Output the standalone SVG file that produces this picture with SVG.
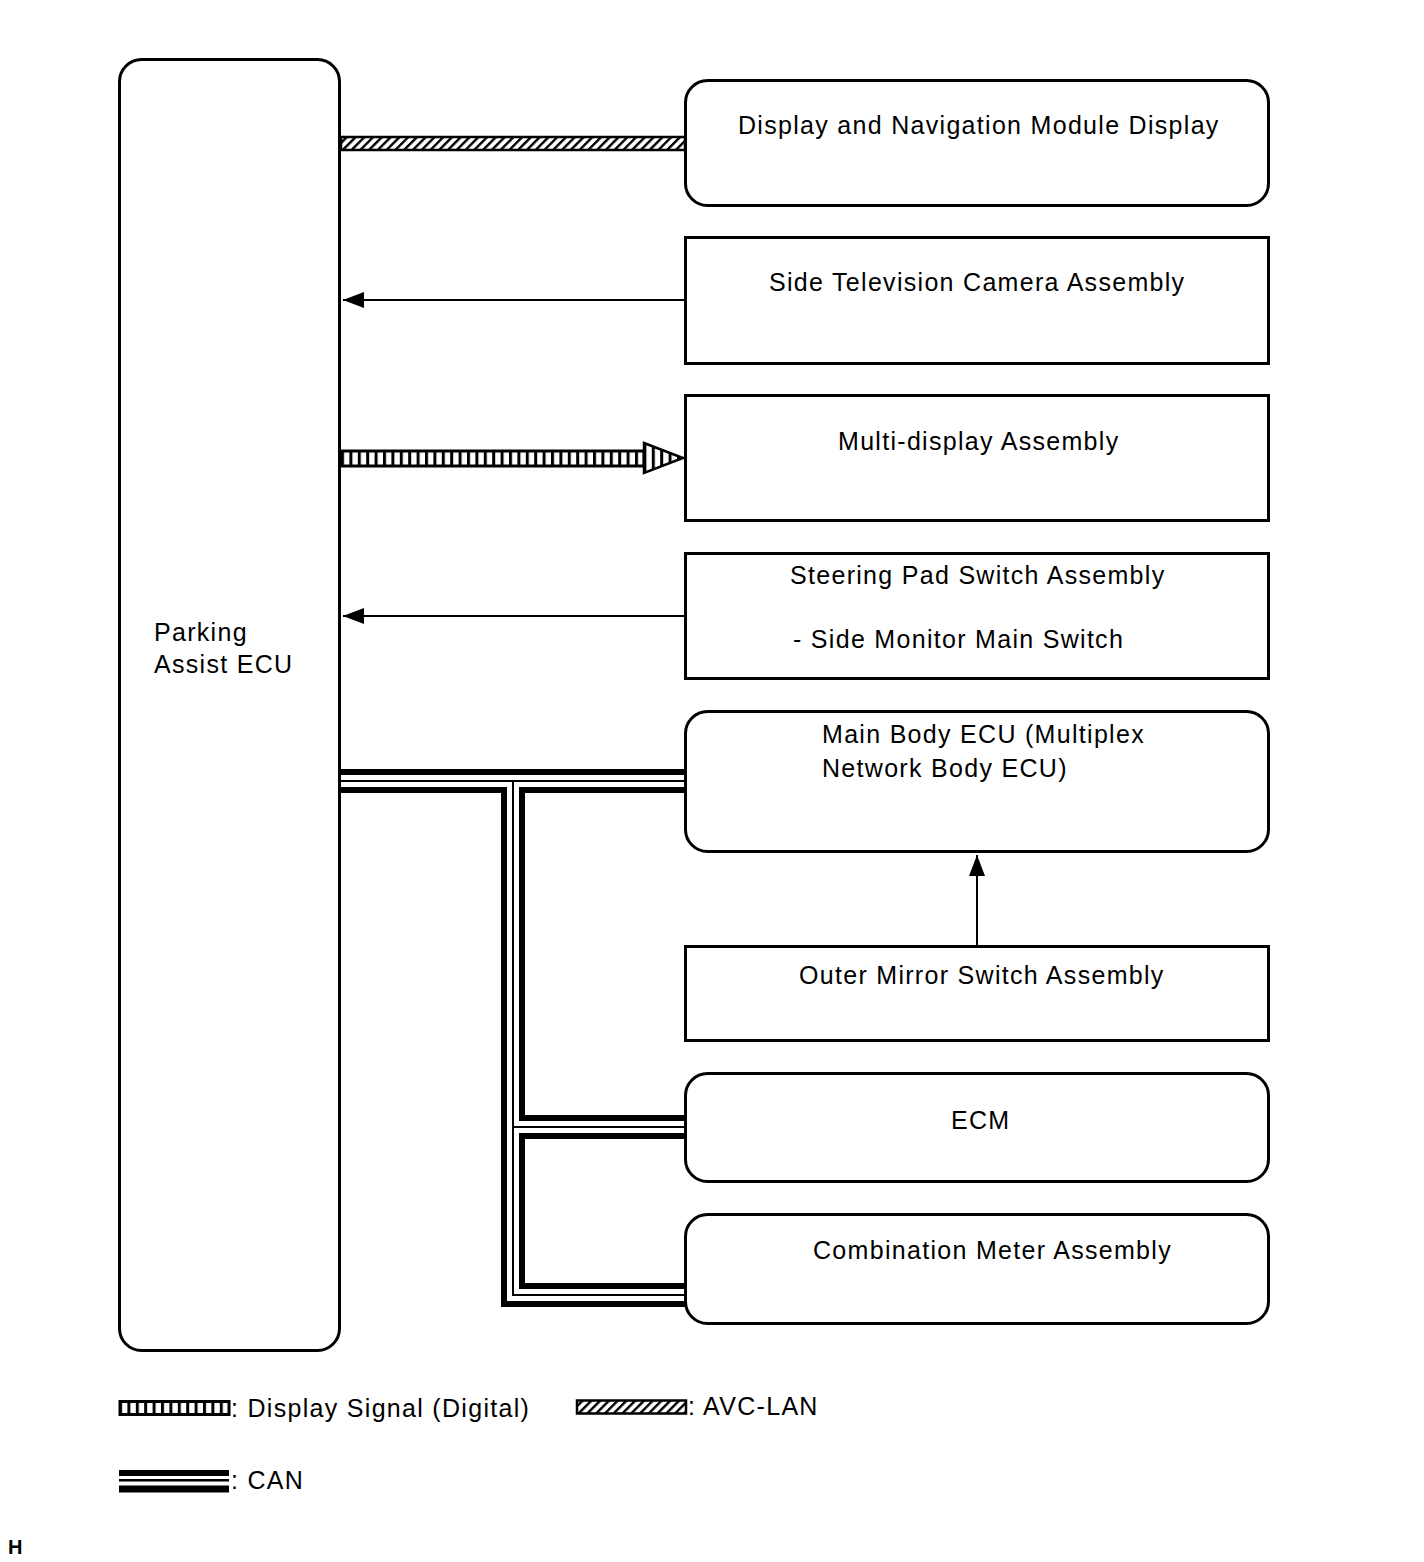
<svg xmlns="http://www.w3.org/2000/svg" width="1424" height="1562" viewBox="0 0 1424 1562">
<style>
.box{fill:#fff;stroke:#000;stroke-width:3}
.t{font-family:"Liberation Sans",Arial,sans-serif;font-size:25px;letter-spacing:1.3px;fill:#000}
.ln{stroke:#000;stroke-width:2;fill:none}
.canB{stroke:#000;stroke-width:24;fill:none;stroke-linejoin:miter}
.canW{stroke:#fff;stroke-width:12;fill:none;stroke-linejoin:miter}
.canT{stroke:#000;stroke-width:2;fill:none;stroke-linejoin:miter}
</style>
<defs>
<pattern id="vstripe" patternUnits="userSpaceOnUse" x="341" y="0" width="8.4" height="40">
<rect x="0" y="0" width="8.4" height="40" fill="#fff"/>
<rect x="0" y="0" width="3" height="40" fill="#000"/>
</pattern>
<pattern id="vstripe2" patternUnits="userSpaceOnUse" x="119" y="0" width="8.4" height="40">
<rect x="0" y="0" width="8.4" height="40" fill="#fff"/>
<rect x="0" y="0" width="3" height="40" fill="#000"/>
</pattern>
<pattern id="hatch" patternUnits="userSpaceOnUse" width="6.2" height="20" patternTransform="rotate(45)">
<rect x="0" y="0" width="6.2" height="20" fill="#fff"/>
<rect x="0" y="0" width="2.4" height="20" fill="#000"/>
</pattern>
<marker id="ah" markerUnits="userSpaceOnUse" markerWidth="22" markerHeight="16" refX="21" refY="8" orient="auto">
<path d="M0,0 L21,8 L0,16 Z" fill="#000"/>
</marker>
</defs>

<g id="connectors">
<rect x="341" y="137" width="344" height="13" fill="url(#hatch)" stroke="#000" stroke-width="2.5"/>
<line class="ln" x1="685" y1="300" x2="343" y2="300" marker-end="url(#ah)"/>
<rect x="341" y="451" width="303" height="15" fill="url(#vstripe)" stroke="#000" stroke-width="3"/>
<path d="M644,443 L683,458 L644,473 Z" fill="url(#vstripe)" stroke="#000" stroke-width="2.5" stroke-linejoin="miter"/>
<line class="ln" x1="685" y1="616" x2="343" y2="616" marker-end="url(#ah)"/>
<line class="ln" x1="977" y1="946" x2="977" y2="855" marker-end="url(#ah)"/>
<path class="canB" d="M341,781 H685 M513,781 V1295 H685 M513,1127 H685"/>
<path class="canW" d="M341,781 H685 M513,781 V1295 H685 M513,1127 H685"/>
<path class="canT" d="M341,781 H685 M513,781 V1295 H685 M513,1127 H685"/>
</g>

<g id="parking-assist-ecu">
<rect class="box" x="119.5" y="59.5" width="220" height="1291" rx="22"/>
<text class="t" x="154" y="641">Parking</text>
<text class="t" x="154" y="673">Assist ECU</text>
</g>
<g id="display-navigation">
<rect class="box" x="685.5" y="80.5" width="583" height="125" rx="22"/>
<text class="t" x="738" y="134">Display and Navigation Module Display</text>
</g>
<g id="side-tv-camera">
<rect class="box" x="685.5" y="237.5" width="583" height="126"/>
<text class="t" x="769" y="291">Side Television Camera Assembly</text>
</g>
<g id="multi-display">
<rect class="box" x="685.5" y="395.5" width="583" height="125"/>
<text class="t" x="838" y="450">Multi-display Assembly</text>
</g>
<g id="steering-pad-switch">
<rect class="box" x="685.5" y="553.5" width="583" height="125"/>
<text class="t" x="790" y="584">Steering Pad Switch Assembly</text>
<text class="t" x="793" y="648">- Side Monitor Main Switch</text>
</g>
<g id="main-body-ecu">
<rect class="box" x="685.5" y="711.5" width="583" height="140" rx="22"/>
<text class="t" x="822" y="743">Main Body ECU (Multiplex</text>
<text class="t" x="822" y="777">Network Body ECU)</text>
</g>
<g id="outer-mirror-switch">
<rect class="box" x="685.5" y="946.5" width="583" height="94"/>
<text class="t" x="799" y="984">Outer Mirror Switch Assembly</text>
</g>
<g id="ecm">
<rect class="box" x="685.5" y="1073.5" width="583" height="108" rx="22"/>
<text class="t" x="951" y="1129">ECM</text>
</g>
<g id="combination-meter">
<rect class="box" x="685.5" y="1214.5" width="583" height="109" rx="22"/>
<text class="t" x="813" y="1259">Combination Meter Assembly</text>
</g>

<g id="legend">
<rect x="120" y="1401.5" width="109" height="13" fill="url(#vstripe2)" stroke="#000" stroke-width="3"/>
<text class="t" x="231" y="1417">: Display Signal (Digital)</text>
<rect x="577" y="1400.5" width="109" height="13" fill="url(#hatch)" stroke="#000" stroke-width="2.5"/>
<text class="t" x="688" y="1415">: AVC-LAN</text>
<rect x="119" y="1470" width="110" height="6" fill="#000"/>
<rect x="119" y="1479" width="110" height="2.5" fill="#000"/>
<rect x="119" y="1485.5" width="110" height="7" fill="#000"/>
<text class="t" x="231" y="1489">: CAN</text>
</g>
<text x="8" y="1554" font-family="Liberation Sans,Arial,sans-serif" font-size="20" font-weight="bold">H</text>
</svg>
